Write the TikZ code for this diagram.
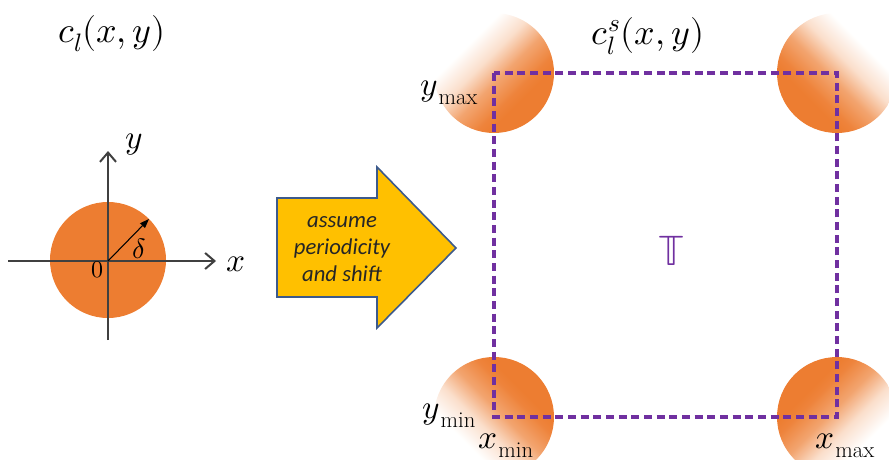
\documentclass[tikz,border=0pt]{standalone}
\usepackage{fontspec}
\usepackage{unicode-math}
\setmathfont{Latin Modern Math}
\newfontfamily\calib{Carlito}
\usetikzlibrary{arrows.meta,calc}
\definecolor{orangeF}{RGB}{237,125,49}
\definecolor{goldF}{RGB}{255,192,0}
\definecolor{arrowEdge}{RGB}{60,90,140}
\definecolor{purpF}{RGB}{112,48,160}
\definecolor{axisG}{RGB}{64,64,64}
\pgfdeclarehorizontalshading{cornerfade}{100bp}{color(0bp)=(white); color(34bp)=(white); color(44bp)=(orangeF!25); color(53bp)=(orangeF!70); color(62bp)=(orangeF!95); color(66bp)=(orangeF); color(100bp)=(orangeF)}
\newcommand{\sublbl}[2]{$#1$\kern0.5pt\raisebox{-0.28em}{\fontsize{17}{19}\selectfont #2}}
\newcommand{\cornerblob}[3]{%
  \begin{scope}[transform canvas={rotate around={#3:(#1,#2)}}]
    \clip (#1,#2) circle (60);
    \shade[shading=cornerfade] ($(#1,#2)+(-60,-60)$) rectangle ($(#1,#2)+(60,60)$);
  \end{scope}}
\tikzset{
  axisline/.style={draw=axisG, line width=1.5pt, -{Straight Barb[length=7pt,width=12pt,line width=1.5pt]}},
  axlbl/.style={inner sep=0pt, font=\fontsize{25}{28}\selectfont},
  mathlbl/.style={inner sep=0pt, font=\fontsize{25}{28}\selectfont},
  biglbl/.style={inner sep=0pt, font=\fontsize{27}{30}\selectfont},
}
\begin{document}
\begin{tikzpicture}[x=0.75pt,y=-0.75pt]
\useasboundingbox (0,0) rectangle (889,460);
% left part
\fill[orangeF] (108,260) circle (58);
\coordinate (ax1) at (8,261);
\coordinate (ax2) at (216,261);
\coordinate (ay1) at (108,340);
\coordinate (ay2) at (108,151);
\coordinate (o) at (108,261);
\coordinate (r) at (149,219);
\draw[axisline] (ax1) -- (ax2);
\draw[axisline] (ay1) -- (ay2);
\draw[black, line width=0.8pt, -{Triangle[length=7pt,width=5pt]}] (o) -- (r);
\node[axlbl] (xl) at (236,264) {$x$};
\node[axlbl] (yl) at (134,145) {$y$};
\node[inner sep=0pt, font=\fontsize{21}{24}\selectfont] (dl) at (139,249) {$\delta$};
\node[inner sep=0pt, font=\fontsize{18}{20}\selectfont] (zl) at (97,270) {$0$};
\node[biglbl] (t1) at (112,34) {$c_l(x,y)$};
% block arrow
\draw[fill=goldF, draw=arrowEdge, line width=1.2pt, line join=miter]
  (277,198) -- (377,198) -- (377,167) -- (456,248) -- (377,328) -- (377,297) -- (277,297) -- cycle;
\node[align=center, inner sep=0pt, text=black!85, font=\calib\itshape\fontsize{17}{20}\selectfont] (ar) at (342,249) {assume\\periodicity\\and shift};
% corner circles
\cornerblob{494}{73}{-45}
\cornerblob{837}{73}{-135}
\cornerblob{494}{417}{45}
\cornerblob{837}{417}{135}
% dashed torus
\draw[purpF, line width=2.3pt, dash pattern=on 6pt off 3.5pt] (494,73) rectangle (837,417);
\node[inner sep=0pt, text=purpF, font=\fontsize{32}{36}\selectfont] (tt) at (672,251) {$\mathbb{T}$};
\node[biglbl] (t2) at (648,36) {$c_l^s(x,y)$};
\node[mathlbl, anchor=base] (ymax) at (449,95) {\sublbl{y}{max}};
\node[mathlbl, anchor=base] (ymin) at (449,418) {\sublbl{y}{min}};
\node[mathlbl, anchor=base] (xmin) at (506,448) {\sublbl{x}{min}};
\node[mathlbl, anchor=base] (xmax) at (845,448) {\sublbl{x}{max}};
\end{tikzpicture}
\end{document}
